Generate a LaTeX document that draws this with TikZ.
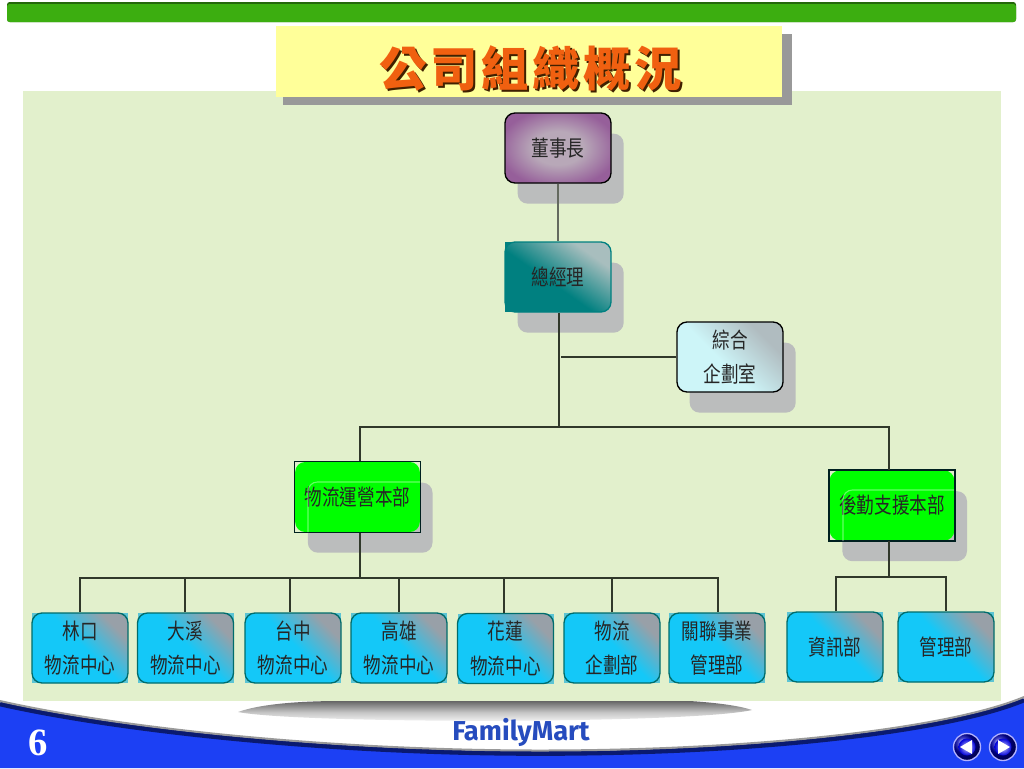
\documentclass[tikz,border=0pt]{standalone}
\usepackage{fontspec}
\usetikzlibrary{shadows,calc}
\newfontfamily\cjk[FakeStretch=0.8]{Noto Sans CJK TC}
\newfontfamily\cjkt[LetterSpace=8]{Noto Sans CJK TC}
\newfontfamily\logofont{Fira Sans}
\setmainfont{Liberation Serif}
\definecolor{panel}{HTML}{E2F0CC}
\definecolor{lineC}{HTML}{30382A}
\definecolor{shadowC}{HTML}{BBBDBD}
\definecolor{barG}{HTML}{3CAE10}
\definecolor{blueF}{HTML}{1C40F4}
\definecolor{navy}{HTML}{0A1A70}
\definecolor{smallC}{HTML}{14C8F8}
\definecolor{smallG}{HTML}{98A0A8}
\definecolor{tealC}{HTML}{008080}
\definecolor{tealG}{HTML}{A8BEBE}
\definecolor{planC}{HTML}{CDF5F8}
\definecolor{planG}{HTML}{B0BCC0}
\definecolor{purpO}{HTML}{965F9A}
\definecolor{purpI}{HTML}{B8A8B8}
\definecolor{limeC}{HTML}{00FF00}
\definecolor{titleY}{HTML}{FFFF99}
\definecolor{titleO}{HTML}{F06010}
\definecolor{backC}{HTML}{5CC4D4}
\pgfdeclareverticalshading{smallgrad}{100bp}{color(0bp)=(smallC); color(52bp)=(smallC); color(74bp)=(smallG); color(100bp)=(smallG)}
\pgfdeclareverticalshading{tealgrad}{100bp}{color(0bp)=(tealC); color(45bp)=(tealC); color(72bp)=(tealG); color(100bp)=(tealG)}
\pgfdeclareverticalshading{plangrad}{100bp}{color(0bp)=(planC); color(45bp)=(planC); color(72bp)=(planG); color(100bp)=(planG)}
\pgfdeclareradialshading{purpgrad}{\pgfpointorigin}{color(0bp)=(purpI); color(12bp)=(purpI); color(28bp)=(purpO); color(100bp)=(purpO)}
\tikzset{
  box/.style={draw=black,line width=1pt,rounded corners=7.5pt,inner sep=0pt,align=center,
    font=\cjk\fontsize{16.5}{26}\selectfont,text=black!85},
  shadowed/.style={general shadow={fill=shadowC,draw=none,shadow xshift=9.5pt,shadow yshift=-15.5pt}},
  bigbox/.style={box,shadowed,minimum width=79.5pt,minimum height=52.5pt},
  deptbox/.style={box,shadowed,draw=none,fill=limeC,minimum width=93.5pt,minimum height=52.5pt},
  smallbox/.style={box,draw=teal!85!black,minimum width=72pt,minimum height=52.5pt,shading=smallgrad,shading angle=-45},
  conn/.style={draw=lineC,line width=1.1pt},
  faint/.style={white,opacity=.4,line width=.8pt,rounded corners=7pt},
  frame/.style={draw=black!75!teal,line width=1.1pt},
}
\begin{document}
\begin{tikzpicture}[x=.75pt,y=-.75pt]
\useasboundingbox (0,0) rectangle (1024,768);
\fill[white] (0,0) rectangle (1024,768);
% top bar
\fill[barG!60!black,rounded corners=2pt] (7,2) rectangle (1016,22);
\fill[barG,rounded corners=2pt] (7,4) rectangle (1016,22);
% panel
\fill[panel] (23,91) rectangle (1001,701);
% title
\fill[black!40] (283,34) rectangle (792,105);
\fill[titleY] (276,26) rectangle (782,97);
\node[font=\cjkt\bfseries\fontsize{35.5}{36}\selectfont,text=black!75!orange] at (532.5,70) {公司組織概況};
\node (title) [font=\cjkt\bfseries\fontsize{35.5}{36}\selectfont,text=titleO] at (530.5,68) {公司組織概況};
% footer
\shade[top color=black!60,bottom color=white,middle color=black!22]
  (238,712) .. controls (260,704) and (300,701) .. (340,701) -- (690,701) .. controls (720,703) and (740,706) .. (752,710)
  .. controls (690,724) and (300,724) .. (238,712) -- cycle;
\path[fill=blueF] (0,703) .. controls (120,730) and (330,752) .. (540,752)
  .. controls (760,752) and (950,730) .. (1024,699) -- (1024,768) -- (0,768) -- cycle;
\draw[navy,line width=3.5pt] (0,704) .. controls (120,731) and (330,753.5) .. (540,753.5)
  .. controls (760,753.5) and (950,731) .. (1024,700);
\draw[black!40,line width=1.5pt] (0,701) .. controls (120,728) and (330,750.5) .. (540,750.5)
  .. controls (760,750.5) and (950,728) .. (1024,697);
\node (logo) [font=\logofont\bfseries\fontsize{20.5}{21}\selectfont,text={rgb,255:red,38;green,76;blue,190}] at (521,732) {FamilyMart};
\node (page) [font=\bfseries\fontsize{29}{30}\selectfont,text=white] at (38,743) {6};
\foreach \nm/\cx in {btnL/967,btnR/1003}{
  \shade[ball color=blue!70!black,draw=blue!30!white,line width=1pt] (\cx,747) circle (13.5);
  \shade[inner color=blue!20!white,outer color=blue!85!black] (\cx,747) circle (8.5);
}
\fill[white] (960,747) -- (972,740) -- (972,754) -- cycle;
\fill[white] (1010,747) -- (998,740) -- (998,754) -- cycle;
% square backings of the small boxes
\foreach \bx/\by in {80/648,185.5/648,293/648,399/648,505.5/648.5,612/648,717/648,835/647,946/647}{
  \fill[backC] (\bx-48,\by-35) rectangle (\bx+48,\by+35);
}
\fill[tealC] (505,242) rectangle (525,312);
\node (chair) [bigbox,shading=purpgrad] at (558,148) {董事長};
\node (gm) [bigbox,draw=tealC,shading=tealgrad,shading angle=-35] at (558,277) {總經理};
\node (plan) [bigbox,shading=plangrad,shading angle=-45] at (730,357) {綜合\\企劃室};
\node (logi) [deptbox] at (357.5,497) {物流運營本部};
\node (supp) [deptbox] at (892,505.5) {後勤支援本部};
\draw[frame] (logi.south west) rectangle (logi.north east);
\draw[frame] (supp.south west) rectangle (supp.north east);
\draw[faint] (308,532) |- (420,482);
\draw[faint] (843,541) |- (954,490);
\node (s1) [smallbox] at (80,648) {林口\\物流中心};
\node (s2) [smallbox] at (185.5,648) {大溪\\物流中心};
\node (s3) [smallbox] at (293,648) {台中\\物流中心};
\node (s4) [smallbox] at (399,648) {高雄\\物流中心};
\node (s5) [smallbox] at (505.5,648.5) {花蓮\\物流中心};
\node (s6) [smallbox] at (612,648) {物流\\企劃部};
\node (s7) [smallbox] at (717,648) {關聯事業\\管理部};
\node (s8) [smallbox] at (835,647) {資訊部};
\node (s9) [smallbox] at (946,647) {管理部};
% connectors
\coordinate (j1) at (559,357);
\coordinate (j2) at (559,427);
\coordinate (j3) at (360,578);
\coordinate (j4) at (889,577);
\draw[conn,line width=.8pt,draw=lineC!75] (chair.south) -- (gm.north);
\draw[conn] (gm.south -| j2) -- (j2);
\draw[conn] (plan.west) -- (561,357);
\draw[conn] (logi.north -| 360,0) |- (j2) -| (supp.north -| 889,0);
\draw[conn] (logi.south -| 360,0) -- (j3);
\draw[conn] (s1.north) |- (j3) -| (s7.north -| 718,0);
\draw[conn] (s2.north -| 185,0) -- (185,578);
\draw[conn] (s3.north -| 290,0) -- (290,578);
\draw[conn] (s4.north) -- (s4.north |- j3);
\draw[conn] (s5.north -| 504,0) -- (504,578);
\draw[conn] (s6.north) -- (s6.north |- j3);
\draw[conn] (supp.south -| j4) -- (j4);
\draw[conn] (s8.north -| 836,0) |- (j4) -| (s9.north);
\end{tikzpicture}
\end{document}
